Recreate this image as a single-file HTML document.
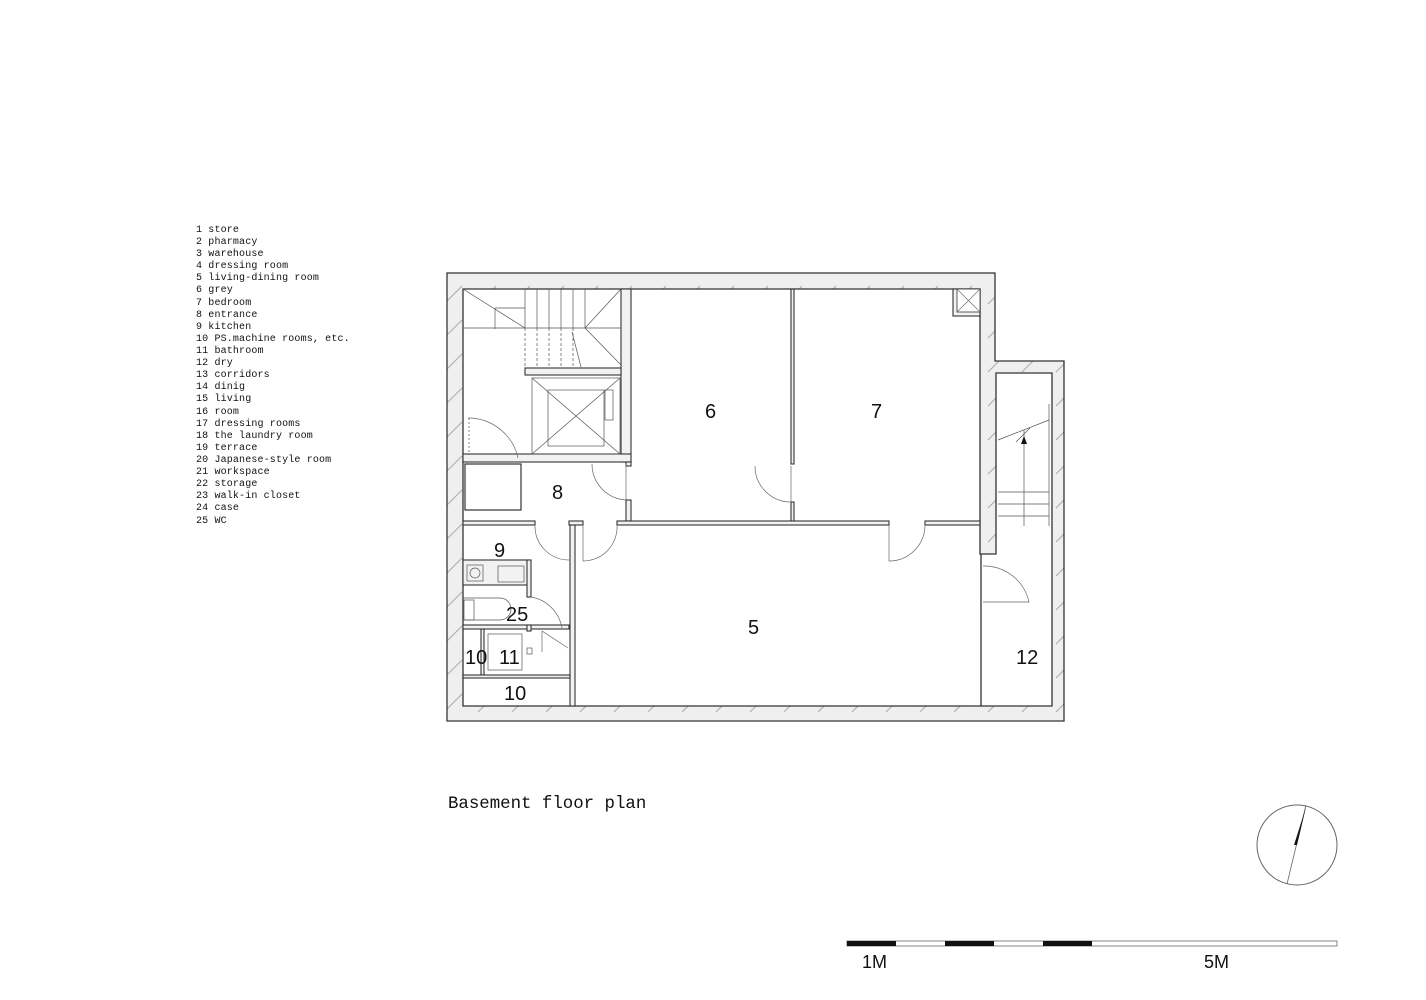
<!DOCTYPE html>
<html><head><meta charset="utf-8"><style>
html,body{margin:0;padding:0;background:#fff;width:1426px;height:1000px;overflow:hidden}
svg{display:block}
.lg{font-family:"Liberation Mono",monospace;font-size:10px;fill:#111;letter-spacing:0.15px}
.n{font-family:"Liberation Sans Narrow","Liberation Sans",sans-serif;font-size:20px;fill:#111}
</style></head><body>
<svg width="1426" height="1000" viewBox="0 0 1426 1000" xmlns="http://www.w3.org/2000/svg">
<defs>
<pattern id="h" width="34" height="34" patternUnits="userSpaceOnUse">
<rect width="34" height="34" fill="#efefef"/>
<line x1="2" y1="32" x2="20" y2="14" stroke="#b0b0b0" stroke-width="1.2"/>
</pattern>
</defs>
<g class="lg">
<text x="196" y="232">1 store</text>
<text x="196" y="244">2 pharmacy</text>
<text x="196" y="256">3 warehouse</text>
<text x="196" y="268">4 dressing room</text>
<text x="196" y="280">5 living-dining room</text>
<text x="196" y="292">6 grey</text>
<text x="196" y="305">7 bedroom</text>
<text x="196" y="317">8 entrance</text>
<text x="196" y="329">9 kitchen</text>
<text x="196" y="341">10 PS.machine rooms, etc.</text>
<text x="196" y="353">11 bathroom</text>
<text x="196" y="365">12 dry</text>
<text x="196" y="377">13 corridors</text>
<text x="196" y="389">14 dinig</text>
<text x="196" y="401">15 living</text>
<text x="196" y="414">16 room</text>
<text x="196" y="426">17 dressing rooms</text>
<text x="196" y="438">18 the laundry room</text>
<text x="196" y="450">19 terrace</text>
<text x="196" y="462">20 Japanese-style room</text>
<text x="196" y="474">21 workspace</text>
<text x="196" y="486">22 storage</text>
<text x="196" y="498">23 walk-in closet</text>
<text x="196" y="510">24 case</text>
<text x="196" y="523">25 WC</text>
</g>

<path d="M447,273 H995 V361 H1064 V721 H447 Z" fill="url(#h)" stroke="#333" stroke-width="1.3"/>
<path d="M463,289 H980 V554 H996 V373 H1052 V706 H463 Z" fill="#fff" stroke="#333" stroke-width="1.3"/>
<line x1="981" y1="554" x2="981" y2="706" stroke="#333" stroke-width="1.3"/>

<g fill="#f2f2f2" stroke="#333" stroke-width="1.1">
<rect x="621" y="289" width="10" height="173"/>
<rect x="463" y="454" width="168" height="8"/>
<rect x="525" y="368" width="96" height="7"/>
<rect x="791" y="289" width="3" height="175"/>
<rect x="791" y="502" width="3" height="19"/>
<rect x="626" y="462" width="5" height="4"/>
<rect x="626" y="500" width="5" height="21"/>
<rect x="463" y="521" width="72" height="4"/>
<rect x="569" y="521" width="14" height="4"/>
<rect x="617" y="521" width="272" height="4"/>
<rect x="925" y="521" width="55" height="4"/>
<rect x="570" y="525" width="5" height="181"/>
<rect x="463" y="560" width="66" height="25"/>
<rect x="527" y="560" width="4" height="37"/>
<rect x="463" y="625" width="106" height="4"/>
<rect x="527" y="625" width="4" height="6" />
<rect x="481" y="629" width="3" height="46"/>
<rect x="463" y="675" width="107" height="3"/>
<rect x="953" y="289" width="27" height="27"/>
</g>
<rect x="957" y="289" width="23" height="23" fill="#fff" stroke="#333" stroke-width="0.8"/>
<path d="M957,289 L980,312 M980,289 L957,312" stroke="#666" stroke-width="0.6"/>

<g stroke="#555" stroke-width="0.7" fill="none">
<path d="M525,289 V328 M537,289 V328 M549,289 V328 M561,289 V328 M573,289 V328 M585,289 V328"/>
<path d="M463,328 H621"/>
<path d="M525,328 V368 M537,328 V368 M549,328 V368 M561,328 V368 M573,328 V368" stroke-dasharray="3,2"/>
<path d="M463,289 L525,328 M621,289 L585,328 L621,365"/>
<path d="M495,308 H525 M495,308 V329"/>
<path d="M572,332 L581,367"/>
<rect x="532" y="378" width="88" height="76"/>
<rect x="548" y="390" width="56" height="56"/>
<path d="M532,378 L620,454 M620,378 L532,454"/>
<rect x="605" y="390" width="8" height="30"/>
<path d="M468,418 A51,51 0 0 1 518,458" stroke="#666"/>
<path d="M469,418 V455" stroke-dasharray="2,2"/>
<rect x="465" y="464" width="56" height="46" stroke="#333" stroke-width="1.2"/>
<path d="M592,464 A36,36 0 0 0 626,500 M626,464 V500" stroke="#666"/>
<path d="M755,466 A36,36 0 0 0 791,502 M791,466 V502" stroke="#666"/>
<path d="M535,525 A34,34 0 0 0 569,560" stroke="#666"/>
<path d="M583,561 A34,34 0 0 0 617,525 M583,525 V561" stroke="#666"/>
<path d="M889,525 V561 A36,36 0 0 0 925,525" stroke="#666"/>
<path d="M983,566 A46,46 0 0 1 1029,602 L983,602" stroke="#666"/>
<path d="M531,597 A38,38 0 0 1 562,628" stroke="#666"/>
<path d="M542,631 L568,648 M542,631 V652" stroke="#666"/>
<rect x="467" y="565" width="16" height="16"/><circle cx="475" cy="573" r="5"/>
<rect x="498" y="566" width="26" height="16"/>
<path d="M463,598 H500 A10,10 0 0 1 500,620 H463"/><rect x="464" y="600" width="10" height="20"/>
<rect x="488" y="634" width="34" height="36"/><rect x="527" y="648" width="5" height="6"/>
<path d="M1049,404 V526 M998,440 L1049,420 M998,492 H1049 M998,504 H1049 M998,516 H1049 M1024,430 V526 M1016,442 L1030,428"/>
</g>
<path d="M1021,444 L1027,444 L1024,436 Z" fill="#111"/>

<g class="n">
<text x="705" y="418">6</text>
<text x="871" y="418">7</text>
<text x="552" y="499">8</text>
<text x="494" y="557">9</text>
<text x="506" y="621">25</text>
<text x="465" y="664">10</text>
<text x="499" y="664">11</text>
<text x="504" y="700">10</text>
<text x="748" y="634">5</text>
<text x="1016" y="664">12</text>
</g>

<text x="448" y="808" style="font-family:'Liberation Mono',monospace;font-size:17.4px;fill:#111">Basement floor plan</text>

<circle cx="1297" cy="845" r="40" fill="none" stroke="#666" stroke-width="1"/>
<line x1="1306" y1="805" x2="1287" y2="884" stroke="#666" stroke-width="0.8"/>
<path d="M1306,807 L1294,845 L1297,845 Z" fill="#111"/>

<rect x="847" y="941" width="490" height="5" fill="#fff" stroke="#666" stroke-width="0.8"/>
<rect x="847" y="941" width="49" height="5" fill="#111"/>
<rect x="945" y="941" width="49" height="5" fill="#111"/>
<rect x="1043" y="941" width="49" height="5" fill="#111"/>
<text x="862" y="968" style="font-family:'Liberation Sans Narrow','Liberation Sans',sans-serif;font-size:18px;fill:#111">1M</text>
<text x="1204" y="968" style="font-family:'Liberation Sans Narrow','Liberation Sans',sans-serif;font-size:18px;fill:#111">5M</text>
</svg>
</body></html>
